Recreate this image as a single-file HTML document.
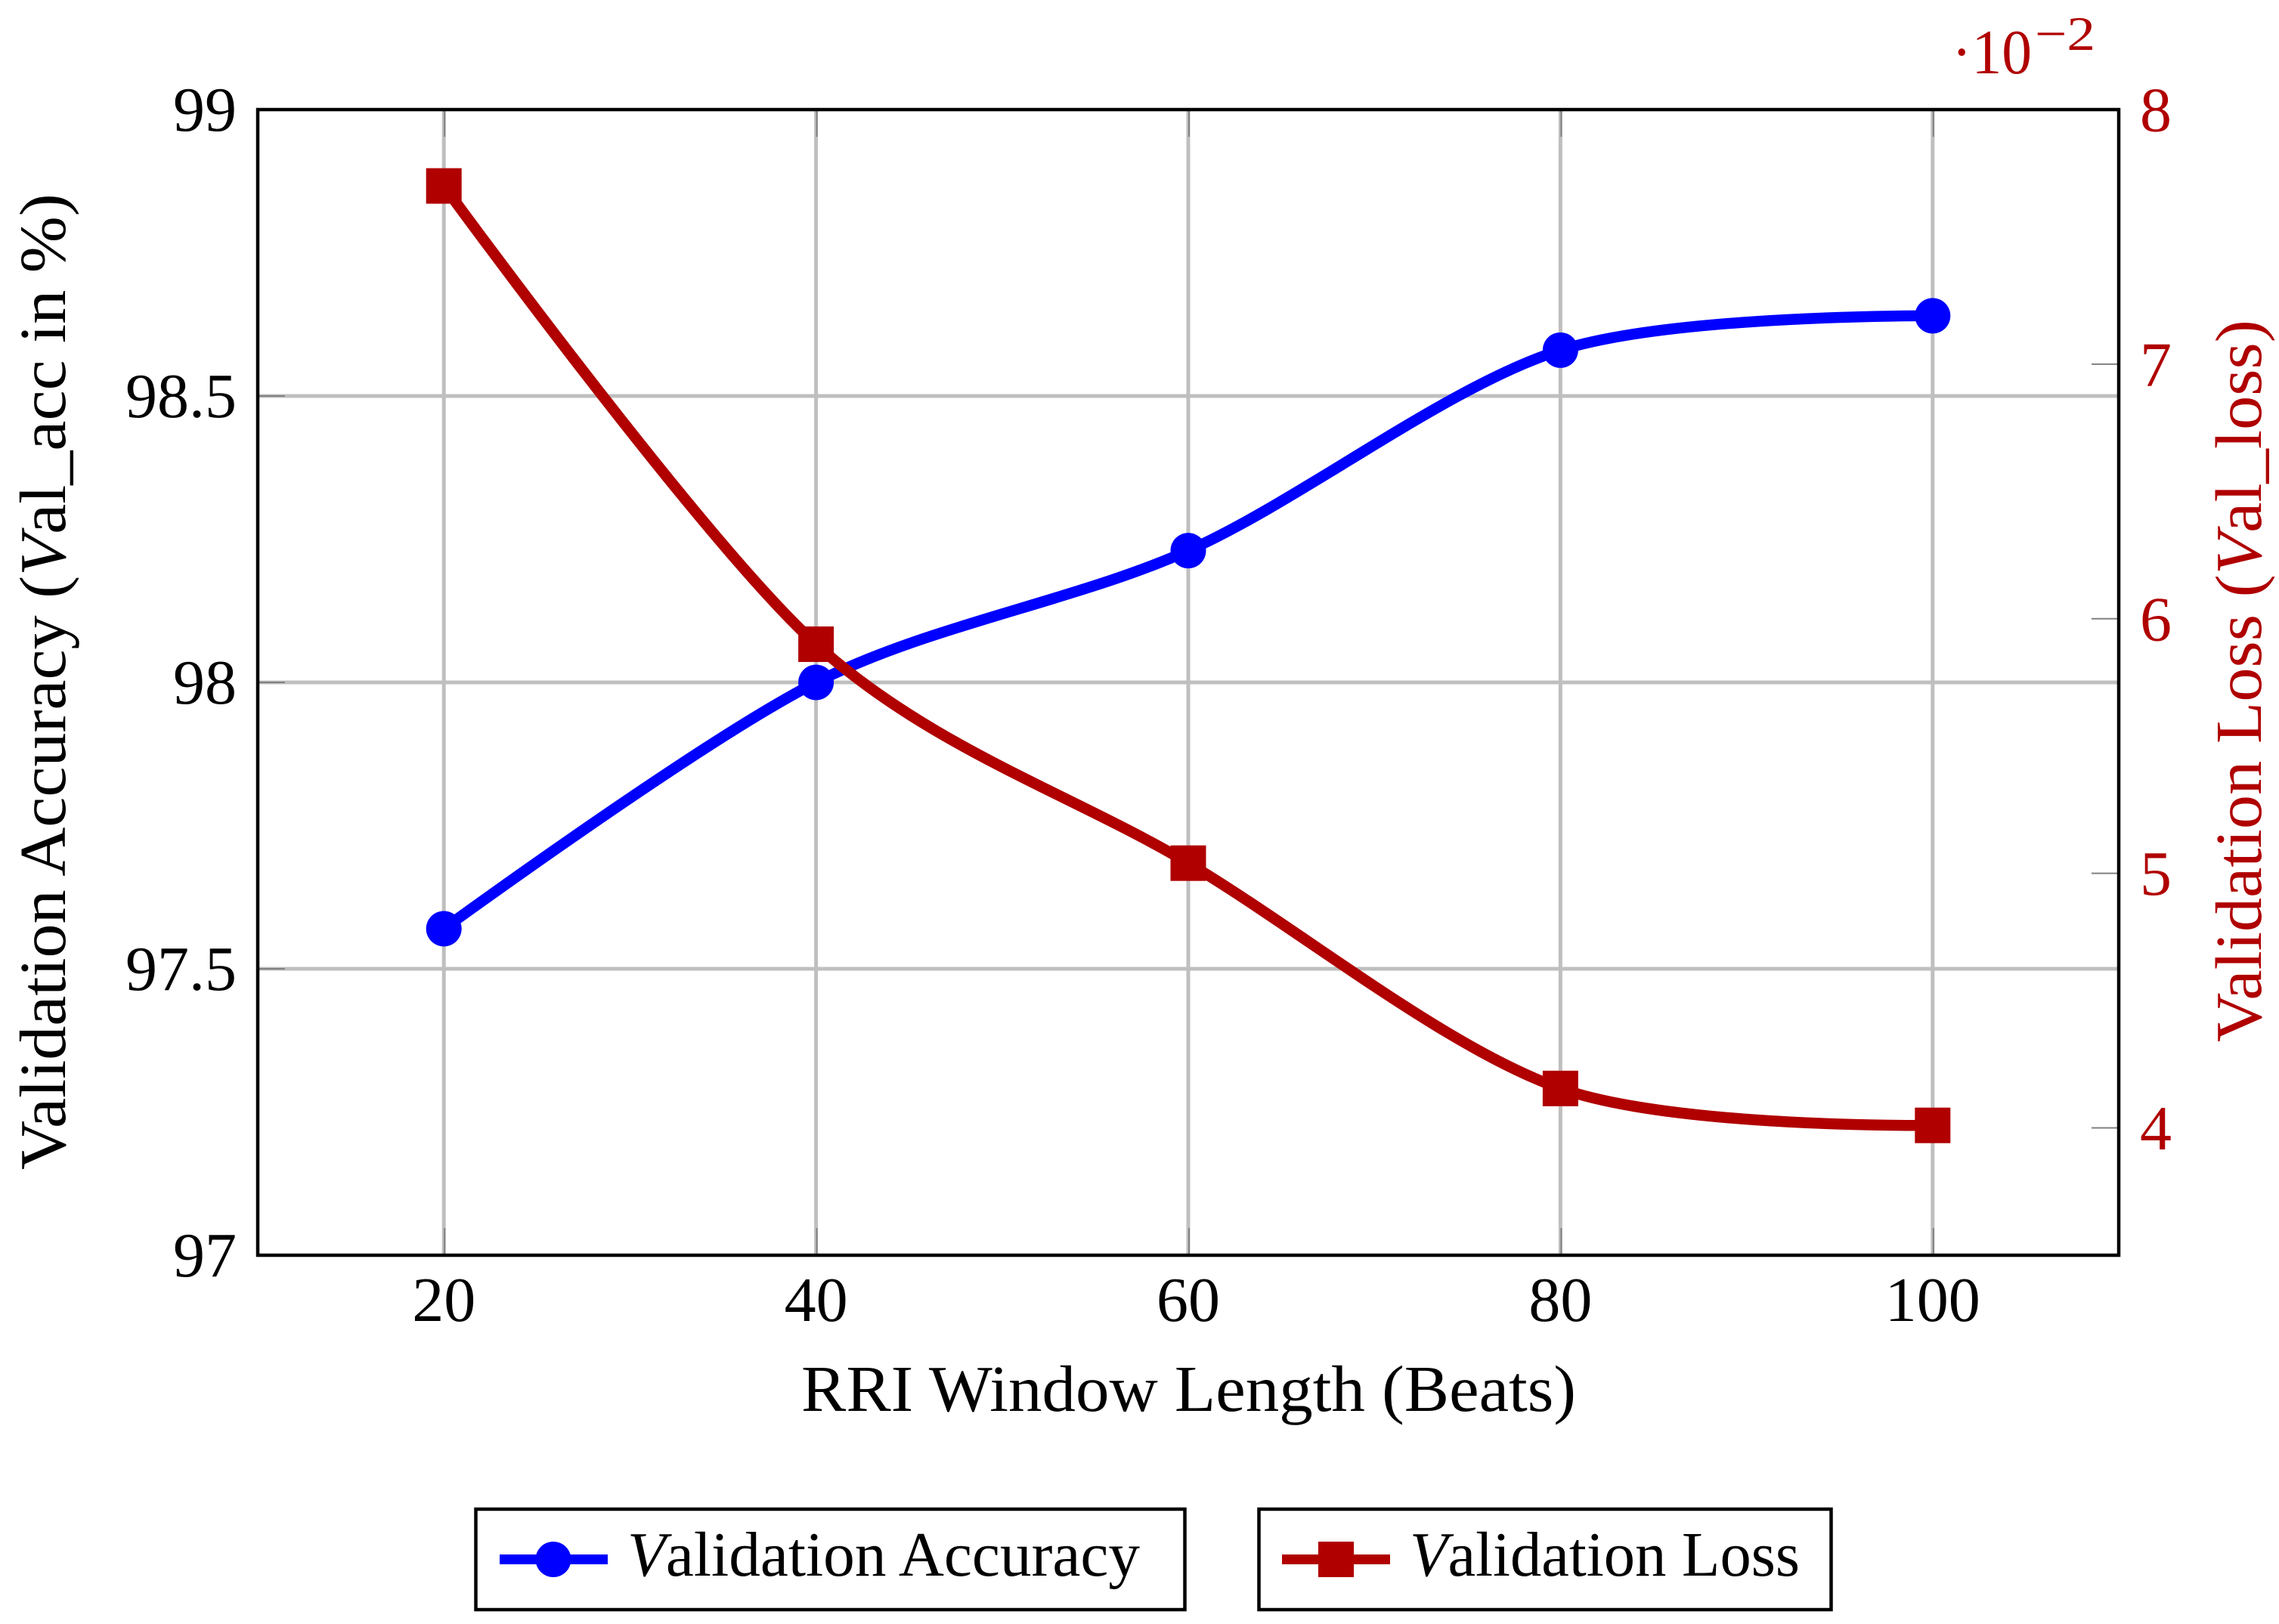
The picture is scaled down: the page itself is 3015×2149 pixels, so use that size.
<!DOCTYPE html>
<html lang="en">
<head>
<meta charset="utf-8">
<title>Validation accuracy and loss vs RRI window length</title>
<style>
html,body{margin:0;padding:0;background:#fff;}
svg{display:block;}
text{font-family:"Liberation Serif","DejaVu Serif",serif;}
</style>
</head>
<body>
<svg id="chart" xmlns="http://www.w3.org/2000/svg" width="3015" height="2149" viewBox="0 0 3015 2149">
  <rect x="0" y="0" width="3015" height="2149" fill="#ffffff"/>
  <g id="grid"></g>
  <g id="ticks"></g>
  <rect x="341" y="145" width="2462" height="1516" fill="none" stroke="#000" stroke-width="4.5"/>
  <g id="tick-labels"></g>
  <g id="series"></g>

  <text fill="#b00000" font-size="84" x="2582" y="97" textLength="106" lengthAdjust="spacingAndGlyphs">·10</text>
  <text fill="#b00000" font-size="64" x="2692" y="66" textLength="80" lengthAdjust="spacingAndGlyphs">−2</text>

  <text font-size="87" x="1060" y="1867" textLength="1025" lengthAdjust="spacingAndGlyphs">RRI Window Length (Beats)</text>
  <text id="left-title" font-size="87" transform="translate(86 1548) rotate(-90)" x="0" y="0">Validation Accuracy (<tspan font-style="italic">V</tspan>al_acc in %)</text>
  <text id="right-title" font-size="87" fill="#b00000" transform="translate(2991 1379) rotate(-90)" x="0" y="0">Validation Loss (<tspan font-style="italic">V</tspan>al_loss)</text>

  <g>
    <rect x="629.5" y="1997" width="938" height="133" fill="#fff" stroke="#000" stroke-width="4.5"/>
    <line x1="661" x2="804" y1="2063.5" y2="2063.5" stroke="#0000ff" stroke-width="13"/>
    <circle cx="732" cy="2063.5" r="23.5" fill="#0000ff"/>
    <text font-size="84" x="830" y="2085" textLength="678" lengthAdjust="spacingAndGlyphs"><tspan font-style="italic">V</tspan>alidation Accuracy</text>
  </g>
  <g>
    <rect x="1665.5" y="1997" width="757" height="133" fill="#fff" stroke="#000" stroke-width="4.5"/>
    <line x1="1696" x2="1839" y1="2063.5" y2="2063.5" stroke="#b00000" stroke-width="13"/>
    <rect x="1744" y="2040" width="47" height="47" fill="#b00000"/>
    <text font-size="84" x="1865" y="2085" textLength="516" lengthAdjust="spacingAndGlyphs"><tspan font-style="italic">V</tspan>alidation Loss</text>
  </g>
</svg>
<script>
const windowLengths = [20, 40, 60, 80, 100];
const accuracyValues = [97.57, 98.0, 98.23, 98.58, 98.64];
const lossValues = [7.7, 5.9, 5.04, 4.155, 4.01];
const xTickValues = [20, 40, 60, 80, 100];
const leftTickValues = [97, 97.5, 98, 98.5, 99];
const leftTickLabels = ['97', '97.5', '98', '98.5', '99'];
const rightTickValues = [4, 5, 6, 7, 8];
const rightTickLabels = ['4', '5', '6', '7', '8'];

const SVG_NS = 'http://www.w3.org/2000/svg';
const plot = { left: 341, right: 2803, top: 145, bottom: 1661 };
const xDomain = [10, 110];
const leftDomain = [97, 99];
const rightDomain = [3.5, 8];

function xScale(v) {
  return plot.left + (v - xDomain[0]) / (xDomain[1] - xDomain[0]) * (plot.right - plot.left);
}
function yLeft(v) {
  return plot.bottom - (v - leftDomain[0]) / (leftDomain[1] - leftDomain[0]) * (plot.bottom - plot.top);
}
function yRight(v) {
  return plot.bottom - (v - rightDomain[0]) / (rightDomain[1] - rightDomain[0]) * (plot.bottom - plot.top);
}
function make(tag, attrs, parent) {
  const node = document.createElementNS(SVG_NS, tag);
  for (const k in attrs) node.setAttribute(k, attrs[k]);
  parent.appendChild(node);
  return node;
}
function smoothPath(pts) {
  const f = 0.55 * 0.2775;
  let d = 'M' + pts[0][0] + ' ' + pts[0][1];
  for (let i = 0; i < pts.length - 1; i++) {
    const p0 = pts[i], p1 = pts[i + 1];
    let c1 = p0, c2 = p1;
    if (i > 0) {
      c1 = [p0[0] + f * (p1[0] - pts[i - 1][0]), p0[1] + f * (p1[1] - pts[i - 1][1])];
    }
    if (i < pts.length - 2) {
      c2 = [p1[0] - f * (pts[i + 2][0] - p0[0]), p1[1] - f * (pts[i + 2][1] - p0[1])];
    }
    d += ' C' + c1[0] + ' ' + c1[1] + ' ' + c2[0] + ' ' + c2[1] + ' ' + p1[0] + ' ' + p1[1];
  }
  return d;
}
function fitRotatedTitle(id, x, y, length) {
  const node = document.getElementById(id);
  const sx = length / node.getComputedTextLength();
  node.setAttribute('transform', 'translate(' + x + ' ' + y + ') rotate(-90) scale(' + sx + ' 1)');
}

const gridG = document.getElementById('grid');
const ticksG = document.getElementById('ticks');
const labelsG = document.getElementById('tick-labels');
const seriesG = document.getElementById('series');

const gridColor = '#bfbfbf';
const tickColor = '#808080';
const lossColor = '#b00000';
const accColor = '#0000ff';

fitRotatedTitle('left-title', 86, 1548, 1292);
fitRotatedTitle('right-title', 2991, 1379, 956);

xTickValues.forEach(function (v) {
  const x = xScale(v);
  const g = make('line', { x1: x, x2: x, y1: plot.top, y2: plot.bottom, stroke: gridColor, 'stroke-width': 5 }, gridG);
  
  
  const t1 = make('line', { x1: x + 1, x2: x + 1, y1: plot.top + 2, y2: plot.top + 36, stroke: tickColor, 'stroke-width': 2 }, ticksG);
  
  
  const t2 = make('line', { x1: x + 1, x2: x + 1, y1: plot.bottom - 36, y2: plot.bottom - 2, stroke: tickColor, 'stroke-width': 2 }, ticksG);
  
  
  const lab = make('text', { x: x, y: 1748, 'text-anchor': 'middle', 'font-size': 84, fill: '#000' }, labelsG);
  lab.textContent = String(v);
  
  
});

leftTickValues.forEach(function (v, i) {
  const y = yLeft(v);
  if (v > leftDomain[0] && v < leftDomain[1]) {
    const g = make('line', { x1: plot.left, x2: plot.right, y1: y, y2: y, stroke: gridColor, 'stroke-width': 5 }, gridG);
    
    
  }
  const t = make('line', { x1: plot.left + 2, x2: plot.left + 36, y1: y, y2: y, stroke: tickColor, 'stroke-width': 2 }, ticksG);
  
  
  const lab = make('text', { x: 313, y: y + 28, 'text-anchor': 'end', 'font-size': 84, fill: '#000' }, labelsG);
  lab.textContent = leftTickLabels[i];
  
  
});

rightTickValues.forEach(function (v, i) {
  const y = yRight(v);
  const t = make('line', { x1: plot.right - 36, x2: plot.right - 2, y1: y, y2: y, stroke: tickColor, 'stroke-width': 2 }, ticksG);
  
  
  const lab = make('text', { x: 2852, y: y + 28.5, 'text-anchor': 'middle', 'font-size': 84, fill: lossColor }, labelsG);
  lab.textContent = rightTickLabels[i];
  
  
});

const accPts = windowLengths.map(function (w, i) { return [xScale(w), yLeft(accuracyValues[i])]; });
const lossPts = windowLengths.map(function (w, i) { return [xScale(w), yRight(lossValues[i])]; });

const accLine = make('path', { d: smoothPath(accPts), fill: 'none', stroke: accColor, 'stroke-width': 14.5 }, seriesG);


accPts.forEach(function (p) {
  const c = make('circle', { cx: p[0], cy: p[1], r: 23.5, fill: accColor }, seriesG);
  
  
});

const lossLine = make('path', { d: smoothPath(lossPts), fill: 'none', stroke: lossColor, 'stroke-width': 14.5 }, seriesG);


lossPts.forEach(function (p) {
  const r = make('rect', { x: p[0] - 23.5, y: p[1] - 23.5, width: 47, height: 47, fill: lossColor }, seriesG);
  
  
});
</script>
</body>
</html>
